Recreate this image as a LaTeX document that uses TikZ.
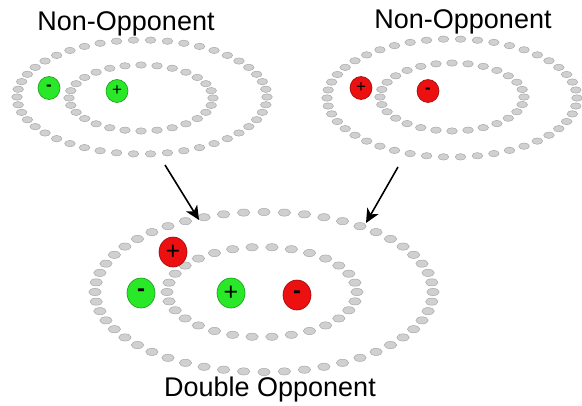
\documentclass[tikz,border=0pt]{standalone}
\usepackage{fontspec}
\setmainfont{Liberation Sans}
\usetikzlibrary{arrows.meta,shapes.geometric}
\definecolor{dotfill}{RGB}{208,208,208}
\definecolor{dotline}{RGB}{168,168,168}
\definecolor{cgreen}{RGB}{40,232,40}
\definecolor{cred}{RGB}{236,16,16}
\newcommand\dotring[7]{% cx cy rx ry n dotrx dotry
  \foreach \k in {1,...,#5}{
    \pgfmathsetmacro\ang{360/#5*\k}
    \pgfmathsetmacro\px{#1+#3*cos(\ang)}
    \pgfmathsetmacro\py{#2+#4*sin(\ang)}
    \filldraw[dotstyle] (\px,\py) ellipse [x radius=#6, y radius=#7];
  }}
\begin{document}
\begin{tikzpicture}[x=1pt,y=-1pt,
  dotstyle/.style={fill=dotfill,draw=dotline,line width=0.5pt},
  label/.style={font=\fontsize{27}{30}\selectfont,inner sep=0pt},
  cell/.style={ellipse,inner sep=0pt,line width=0.6pt},
  gcell/.style={cell,fill=cgreen,draw=cgreen!65!black},
  rcell/.style={cell,fill=cred,draw=cred!65!black},
  small/.style={minimum width=22pt,minimum height=23pt},
  big/.style={minimum width=28pt,minimum height=30pt},
  splus/.style={font=\fontsize{17}{17}\selectfont},
  sminus/.style={font=\bfseries\fontsize{17}{17}\selectfont},
  bplus/.style={font=\fontsize{25}{25}\selectfont},
  bminus/.style={font=\bfseries\fontsize{24}{24}\selectfont},
  arr/.style={line width=1.6pt,-{Stealth[length=14pt,width=13pt,inset=4pt]}}]
\useasboundingbox (0,0) rectangle (582,405);
% rings
\dotring{142}{97}{125}{57}{46}{5.3}{3.2}
\dotring{141}{98}{72}{33}{28}{5.3}{3.2}
\dotring{452}{98}{125}{59}{46}{5.3}{3.2}
\dotring{452}{97}{72}{34}{28}{5.3}{3.2}
\dotring{264}{292}{169}{80}{52}{6.2}{3.6}
\dotring{262}{292}{95}{45}{30}{6.2}{3.6}
% cells
\node[gcell,small,sminus] (g1) at (49,88) {-};
\node[gcell,small,splus] (g2) at (117,91) {+};
\node[rcell,small,splus] (r1) at (361,88) {+};
\node[rcell,small,sminus] (r2) at (428,91) {-};
\node[rcell,big,bplus] (r3) at (173,252) {+};
\node[gcell,big,bminus] (g3) at (141,293) {-};
\node[gcell,big,bplus] (g4) at (231,293) {+};
\node[rcell,big,bminus] (r4) at (297,295) {-};
% labels
\node[label] (t1) at (126,24) {Non-Opponent};
\node[label] (t2) at (463,22) {Non-Opponent};
\node[label] (t3) at (270,390) {Double Opponent};
% arrows
\coordinate (a1s) at (165,165);
\coordinate (a1e) at (199,220);
\coordinate (a2s) at (398,167);
\coordinate (a2e) at (366,223);
\draw[arr] (a1s) -- (a1e);
\draw[arr] (a2s) -- (a2e);
\end{tikzpicture}
\end{document}
